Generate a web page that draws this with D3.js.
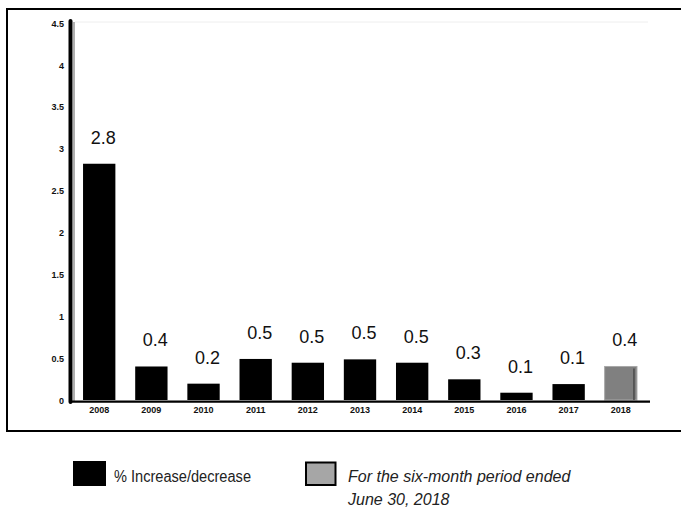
<!DOCTYPE html>
<html>
<head>
<meta charset="utf-8">
<script src="https://cdn.jsdelivr.net/npm/d3@7"></script>
<style>
  html, body { margin: 0; padding: 0; background: #fff; }
  svg { display: block; }
  text { font-family: "Liberation Sans", Arial, sans-serif; }
</style>
</head>
<body>
<svg id="chart" width="681" height="508"></svg>
<script>
// ---- data ----
const years = ["2008", "2009", "2010", "2011", "2012", "2013", "2014", "2015", "2016", "2017", "2018"];
const values = [2.82, 0.40, 0.195, 0.49, 0.445, 0.485, 0.445, 0.247, 0.087, 0.19, 0.40];
const valueLabels = ["2.8", "0.4", "0.2", "0.5", "0.5", "0.5", "0.5", "0.3", "0.1", "0.1", "0.4"];
const partialYear = ["2018"];
const yTicks = [0, 0.5, 1, 1.5, 2, 2.5, 3, 3.5, 4, 4.5];
const legendLabels = ["% Increase/decrease", "For the six-month period ended", "June 30, 2018"];

// ---- drawing ----
const svg = d3.select("#chart");

// outer frame (right side extends beyond the view)
svg.append("rect")
  .attr("x", 7).attr("y", 9).attr("width", 700).attr("height", 422)
  .attr("fill", "none").attr("stroke", "#000").attr("stroke-width", 2);

const x = d3.scaleBand().domain(years).range([70, 650]).paddingInner(0.38).paddingOuter(0.25);
const y = d3.scaleLinear().domain([0, 4.5]).range([400, 23]);

// faint plot top line
svg.append("line")
  .attr("x1", 75).attr("x2", 648).attr("y1", 22).attr("y2", 22)
  .attr("stroke", "#eeeeee").attr("stroke-width", 1);

// bars
svg.append("g").selectAll("rect")
  .data(years)
  .join("rect")
  .attr("x", d => x(d))
  .attr("y", (d, i) => y(values[i]))
  .attr("width", x.bandwidth())
  .attr("height", (d, i) => y(0) - y(values[i]))
  .attr("fill", d => partialYear.includes(d) ? "#808080" : "#000")
  .attr("stroke", d => partialYear.includes(d) ? "#a8a8a8" : "none")
  .attr("stroke-width", 1);

// darker right edge on the partial-year bar
svg.append("g").selectAll("line")
  .data(partialYear)
  .join("line")
  .attr("x1", d => x(d) + x.bandwidth() - 3)
  .attr("x2", d => x(d) + x.bandwidth() - 3)
  .attr("y1", d => y(values[years.indexOf(d)]) + 2)
  .attr("y2", y(0))
  .attr("stroke", "#4a4a4a").attr("stroke-width", 1.5);

// value labels
svg.append("g").selectAll("text")
  .data(years)
  .join("text")
  .attr("x", d => x(d) + x.bandwidth() / 2 + 4)
  .attr("y", (d, i) => y(values[i]) - 20)
  .attr("text-anchor", "middle")
  .attr("font-size", 18)
  .attr("fill", "#111")
  .text((d, i) => valueLabels[i]);

// y axis line with shadow
svg.append("line")
  .attr("x1", 74).attr("x2", 74).attr("y1", 22).attr("y2", 401)
  .attr("stroke", "#b0b0b0").attr("stroke-width", 2);
svg.append("line")
  .attr("x1", 70.5).attr("x2", 70.5).attr("y1", 21).attr("y2", 402)
  .attr("stroke", "#000").attr("stroke-width", 4).attr("stroke-linecap", "round");

// x axis line
svg.append("line")
  .attr("x1", 69).attr("x2", 650).attr("y1", 401.7).attr("y2", 401.7)
  .attr("stroke", "#000").attr("stroke-width", 2.2);

// y axis ticks
const yAxis = d3.axisLeft(y).tickValues(yTicks).tickSize(0).tickPadding(0).tickFormat(d3.format("~g"));
const gy = svg.append("g").attr("transform", "translate(64,0)").call(yAxis);
gy.select(".domain").remove();
gy.selectAll("text")
  .attr("font-family", "\"Liberation Sans\", Arial, sans-serif")
  .attr("font-size", 9).attr("font-weight", "bold").attr("fill", "#111")
  .attr("dy", "0.35em");

// x axis labels
const xAxis = d3.axisBottom(x).tickSize(0).tickPadding(0);
const gx = svg.append("g").attr("transform", "translate(0,413)").call(xAxis);
gx.select(".domain").remove();
gx.selectAll("text")
  .attr("font-family", "\"Liberation Sans\", Arial, sans-serif")
  .attr("font-size", 9).attr("font-weight", "bold").attr("fill", "#111")
  .attr("dy", 0).attr("y", 0);

// legend
const lg = svg.append("g");
lg.append("rect").attr("x", 73).attr("y", 461).attr("width", 33).attr("height", 25).attr("fill", "#000");
lg.append("text").attr("x", 114).attr("y", 482).attr("font-size", 16).attr("fill", "#222")
  .attr("textLength", 137).attr("lengthAdjust", "spacingAndGlyphs")
  .text(legendLabels[0]);
lg.append("rect").attr("x", 306).attr("y", 462.5).attr("width", 29.5).attr("height", 22.5)
  .attr("fill", "#a6a6a6").attr("stroke", "#000").attr("stroke-width", 2);
lg.append("text").attr("x", 348).attr("y", 482).attr("font-size", 16).attr("font-style", "italic").attr("fill", "#222")
  .text(legendLabels[1]);
lg.append("text").attr("x", 348).attr("y", 505).attr("font-size", 16).attr("font-style", "italic").attr("fill", "#222")
  .text(legendLabels[2]);
</script>
</body>
</html>
